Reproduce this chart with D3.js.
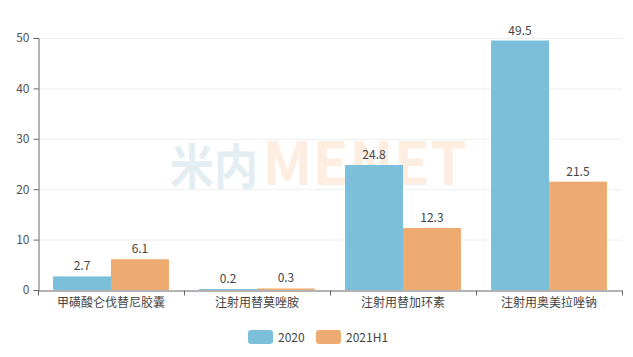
<!DOCTYPE html>
<html><head><meta charset="utf-8">
<script src="https://cdn.jsdelivr.net/npm/d3@7"></script>
<style>body{margin:0;background:#fff}svg{display:block}text{font-family:"Noto Sans CJK SC","Noto Sans",sans-serif}</style>
</head><body>
<svg id="c" width="633" height="357"></svg>
<script>
const categories = ["甲磺酸仑伐替尼胶囊","注射用替莫唑胺","注射用替加环素","注射用奥美拉唑钠"];
const seriesNames = ["2020","2021H1"];
const values2020 = [2.7, 0.2, 24.8, 49.5];
const values2021H1 = [6.1, 0.3, 12.3, 21.5];
const yTicks = [0,10,20,30,40,50];
const colors = ["#7bbfdb","#eeab71"];

const svg = d3.select("#c");
const m = {l:38, r:11, t:38, b:67};
const W = 633, H = 357;
const x = d3.scaleBand().domain(categories).range([m.l, W-m.r]).paddingInner(0).paddingOuter(0);
const x1 = d3.scaleBand().domain(seriesNames).range([0, x.bandwidth()]).paddingOuter(0.26).paddingInner(0);
const y = d3.scaleLinear().domain([0,50]).range([H-m.b, m.t]);

// watermark
svg.append("text").attr("x", 170).attr("y", 184).attr("font-size", 48).attr("font-weight", "bold")
  .attr("textLength", 88).attr("lengthAdjust","spacingAndGlyphs")
  .attr("fill", "#e4eef2").text("米内");
svg.append("text").attr("x", 262).attr("y", 185).attr("font-size", 60).attr("font-weight", "bold")
  .attr("font-family","'Liberation Sans',sans-serif")
  .attr("textLength", 205).attr("lengthAdjust","spacingAndGlyphs")
  .attr("fill", "#fdeee1").text("MENET");

// grid
svg.append("g").selectAll("line").data(yTicks.filter(d=>d>0)).join("line")
  .attr("x1", m.l).attr("x2", W-m.r).attr("y1", d=>y(d)+0.5).attr("y2", d=>y(d)+0.5)
  .attr("stroke", "#eeeeee");

// bars
const data = categories.map((c,i)=>({c, vals:[values2020[i], values2021H1[i]]}));
const g = svg.append("g");
data.forEach(d=>{
  d.vals.forEach((v,j)=>{
    const bx = x(d.c) + x1(seriesNames[j]);
    g.append("rect").attr("x", bx).attr("width", x1.bandwidth()).attr("y", y(v)).attr("height", y(0)-y(v))
      .attr("fill", colors[j]);
    g.append("text").attr("x", bx + x1.bandwidth()/2).attr("y", y(v)-6).attr("text-anchor","middle")
      .attr("font-size", 12).attr("fill", "#444").text(v);
  });
});

// y axis
const ya = svg.append("g").attr("transform", `translate(${m.l+0.5},0)`)
  .call(d3.axisLeft(y).tickValues(yTicks).tickSize(5).tickPadding(4));
ya.select(".domain").attr("stroke", "#666");
ya.selectAll(".tick line").attr("stroke", "#666");
ya.selectAll("text").attr("font-size", 12).attr("fill", "#555").attr("font-family","'Noto Sans CJK SC',sans-serif");

// x axis
const xa = svg.append("g").attr("transform", `translate(0,${H-m.b+0.5})`)
  .call(d3.axisBottom(x).tickSize(0).tickPadding(8));
xa.select(".domain").attr("stroke", "#666");
xa.selectAll("text").attr("font-size", 12).attr("fill", "#444").attr("font-family","'Noto Sans CJK SC',sans-serif");
// boundary ticks
const bounds = categories.map(c=>x(c)).concat([x.range()[1]]);
xa.selectAll(".bt").data(bounds).join("line").attr("class","bt")
  .attr("x1", d=>Math.round(d)+0.5).attr("x2", d=>Math.round(d)+0.5).attr("y1",0).attr("y2",5).attr("stroke","#666");

// legend
const leg = svg.append("g");
const lx = [248, 316];
seriesNames.forEach((s,i)=>{
  leg.append("rect").attr("x", lx[i]).attr("y", 330).attr("width", 25).attr("height", 14).attr("rx", 3)
    .attr("fill", colors[i]);
  leg.append("text").attr("x", lx[i]+30).attr("y", 341.5).attr("font-size", 12).attr("fill","#444").text(s);
});
</script>
</body></html>
